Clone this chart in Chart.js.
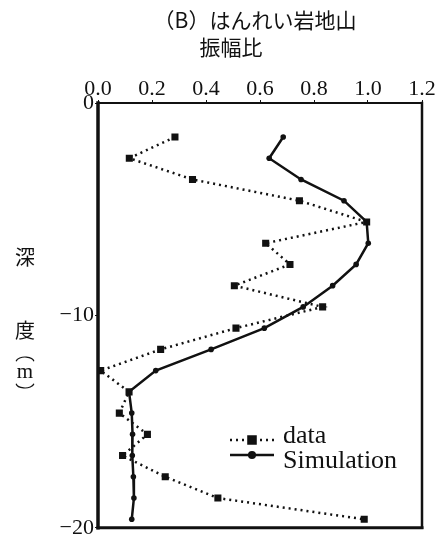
<!DOCTYPE html>
<html>
<head>
<meta charset="utf-8">
<script src="https://cdn.jsdelivr.net/npm/chart.js@4.4.1/dist/chart.umd.min.js"></script>
<style>
  html, body { margin: 0; padding: 0; background: #fff; }
</style>
</head>
<body>
<canvas id="myChart" width="448" height="542"></canvas>
<script>
// depth (m) of each measurement, negative downward
const depths = [-1.6, -2.6, -3.6, -4.6, -5.6, -6.6, -7.6, -8.6, -9.6, -10.6,
  -11.6, -12.6, -13.6, -14.6, -15.6, -16.6, -17.6, -18.6, -19.6];

// amplitude ratio, observed
const dataAmp = [0.285, 0.116, 0.35, 0.746, 0.995, 0.621, 0.711, 0.505, 0.832, 0.511,
  0.232, 0.01, 0.115, 0.079, 0.183, 0.091, 0.249, 0.444, 0.986];

// amplitude ratio, simulated
const simAmp = [0.686, 0.634, 0.752, 0.911, 0.995, 1.001, 0.956, 0.869, 0.76, 0.616,
  0.419, 0.214, 0.115, 0.125, 0.128, 0.127, 0.131, 0.133, 0.125];

const titleLines = ["（B）はんれい岩地山", "振幅比"];
const yLabelChars = ["深", "度"];
const seriesNames = ["data", "Simulation"];

const serif = '"Liberation Serif", "DejaVu Serif", serif';
const jp = '"Noto Sans CJK JP", sans-serif';
const ink = "#111";

const toPoints = (xs) => xs.map((v, i) => ({ x: v, y: depths[i] }));

// heading above the axis
const headingPlugin = {
  id: "heading",
  afterDraw(chart) {
    const ctx = chart.ctx;
    ctx.save();
    ctx.fillStyle = ink;
    ctx.textAlign = "center";
    ctx.textBaseline = "middle";
    ctx.font = "21px " + jp;
    ctx.fillText(titleLines[0], 255, 20);
    ctx.fillText(titleLines[1], 231, 47);

    // vertical y-axis caption: 深 度 (m)
    const cx = 25;
    ctx.font = "20px " + jp;
    ctx.fillText(yLabelChars[0], cx, 257);
    ctx.fillText(yLabelChars[1], cx, 330);
    ctx.lineWidth = 1.2;
    ctx.strokeStyle = ink;
    ctx.beginPath();
    ctx.ellipse(cx, 362, 9, 5, 0, Math.PI * 1.05, Math.PI * 1.95);
    ctx.stroke();
    ctx.beginPath();
    ctx.ellipse(cx, 383, 9, 5, 0, Math.PI * 0.05, Math.PI * 0.95);
    ctx.stroke();
    ctx.font = "21px " + serif;
    ctx.fillText("m", cx, 372);
    ctx.restore();
  }
};

// box round the plot area
const framePlugin = {
  id: "frame",
  afterDatasetsDraw(chart) {
    const { ctx, chartArea: a } = chart;
    ctx.save();
    ctx.strokeStyle = ink;
    ctx.lineCap = "square";
    const side = (w, x1, y1, x2, y2) => {
      ctx.lineWidth = w;
      ctx.beginPath();
      ctx.moveTo(x1, y1);
      ctx.lineTo(x2, y2);
      ctx.stroke();
    };
    side(2, a.left, a.top, a.right, a.top);
    side(3.5, a.left, a.top, a.left, a.bottom);
    side(3, a.left, a.bottom, a.right, a.bottom);
    side(2.5, a.right, a.top, a.right, a.bottom);
    ctx.restore();
  }
};

// legend inside the plot, line sample with marker in the middle
const keyPlugin = {
  id: "key",
  afterDatasetsDraw(chart) {
    const { ctx, chartArea: a } = chart;
    const x0 = a.left + 132, x1 = a.left + 176, tx = a.left + 185;
    const rows = [a.top + 337, a.top + 352];
    ctx.save();
    chart.data.datasets.forEach((ds, i) => {
      const y = rows[i];
      ctx.strokeStyle = ds.borderColor;
      ctx.lineWidth = ds.borderWidth;
      ctx.setLineDash(ds.borderDash || []);
      ctx.beginPath();
      ctx.moveTo(x0, y);
      ctx.lineTo(x1, y);
      ctx.stroke();
      ctx.setLineDash([]);
      Chart.helpers.drawPoint(ctx, {
        pointStyle: ds.pointStyle,
        radius: ds.pointRadius,
        borderWidth: 1
      }, (x0 + x1) / 2, y);
      ctx.fillStyle = ink;
      ctx.fill();
      ctx.font = "26px " + serif;
      ctx.textAlign = "left";
      ctx.textBaseline = "middle";
      ctx.fillText(ds.label, tx, y + (i === 0 ? -4 : 6));
    });
    ctx.restore();
  }
};

const ctx = document.getElementById("myChart").getContext("2d");

new Chart(ctx, {
  type: "line",
  data: {
    datasets: [
      {
        label: seriesNames[0],
        data: toPoints(dataAmp),
        borderColor: ink,
        backgroundColor: ink,
        borderWidth: 2.5,
        borderDash: [2, 4],
        pointStyle: "rect",
        pointRadius: 5,
        pointBorderWidth: 0,
        tension: 0
      },
      {
        label: seriesNames[1],
        data: toPoints(simAmp),
        borderColor: ink,
        backgroundColor: ink,
        borderWidth: 2.5,
        pointStyle: "circle",
        pointRadius: 2.8,
        pointBorderWidth: 0,
        tension: 0
      }
    ]
  },
  options: {
    responsive: false,
    animation: false,
    layout: { padding: { left: 0, top: 0, right: 26, bottom: 9 } },
    plugins: {
      legend: { display: false },
      tooltip: { enabled: false }
    },
    scales: {
      x: {
        type: "linear",
        position: "top",
        min: 0,
        max: 1.2,
        afterFit: (scale) => { scale.height = 103; },
        border: { display: false },
        grid: { drawOnChartArea: false, tickLength: 3, color: ink, lineWidth: 1 },
        ticks: {
          stepSize: 0.2,
          padding: -2,
          color: ink,
          font: { family: serif, size: 22 },
          callback: (v) => v.toFixed(1)
        }
      },
      y: {
        type: "linear",
        min: -20,
        max: 0,
        afterFit: (scale) => { scale.width = 98; },
        border: { display: false },
        grid: { drawOnChartArea: false, tickLength: 3, color: ink, lineWidth: 1 },
        ticks: {
          stepSize: 10,
          padding: 1,
          color: ink,
          font: { family: serif, size: 22 },
          callback: (v) => (v === 0 ? "0" : "\u2212" + Math.abs(v))
        }
      }
    }
  },
  plugins: [headingPlugin, framePlugin, keyPlugin]
});
</script>
</body>
</html>
